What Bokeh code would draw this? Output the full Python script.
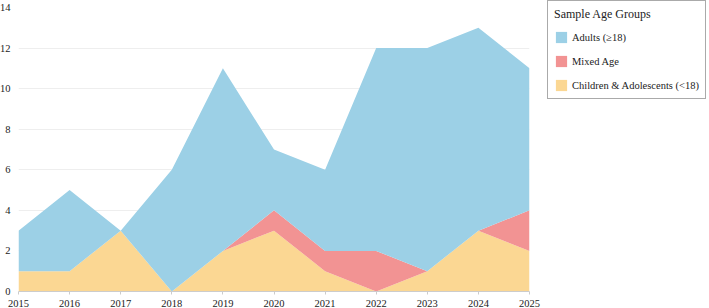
from bokeh.plotting import figure
from bokeh.models import ColumnDataSource, Legend, LegendItem, FixedTicker, Range1d
from bokeh.embed import file_html
from bokeh.resources import INLINE

years = [2015, 2016, 2017, 2018, 2019, 2020, 2021, 2022, 2023, 2024, 2025]
children = [1, 1, 3, 0, 2, 3, 1, 0, 1, 3, 2]
mixed = [0, 0, 0, 0, 0, 1, 1, 2, 0, 0, 2]
adults = [2, 4, 0, 6, 9, 3, 4, 10, 11, 10, 7]
y_ticks = [0, 2, 4, 6, 8, 10, 12, 14]

series_names = ["children", "mixed", "adults"]
series_labels = ["Children & Adolescents (<18)", "Mixed Age", "Adults (\u226518)"]
series_colors = ["#FBD793", "#F29393", "#9CD0E6"]

source = ColumnDataSource(dict(year=years, children=children, mixed=mixed, adults=adults))

FONT = "Liberation Serif"

p = figure(
    frame_width=511, frame_height=284,
    output_backend="svg", toolbar_location=None,
    x_range=Range1d(2015, 2025), y_range=Range1d(0, 14),
    min_border_left=0, min_border_right=179, min_border_top=7, min_border_bottom=0,
)
# pull the canvas left so the plot area starts close to the page edge
p.styles = {"margin-left": "-4px"}
p.outline_line_color = None
p.background_fill_color = "white"

areas = p.varea_stack(stackers=series_names, x="year", color=series_colors, source=source)

p.xaxis.ticker = FixedTicker(ticks=years)
p.yaxis.ticker = FixedTicker(ticks=y_ticks)

p.xgrid.grid_line_color = None
p.ygrid.grid_line_color = "#eeeeee"
p.ygrid.grid_line_width = 1

for ax in (p.xaxis, p.yaxis):
    ax.major_label_text_font = FONT
    ax.major_label_text_color = "#222222"
    ax.major_label_text_font_size = "10.5px"
    ax.minor_tick_line_color = None

p.xaxis.axis_line_color = "#cccccc"
p.xaxis.major_tick_line_color = "#cccccc"
p.xaxis.major_tick_out = 3
p.xaxis.major_tick_in = 0
p.xaxis.major_label_standoff = 5

p.yaxis.axis_line_color = None
p.yaxis.major_tick_line_color = None
p.yaxis.major_tick_out = 0
p.yaxis.major_tick_in = 0
p.yaxis.major_label_standoff = 8

items = [LegendItem(label=series_labels[i], renderers=[areas[i]]) for i in (2, 1, 0)]
legend = Legend(
    items=items,
    title="Sample Age Groups",
    title_text_font=FONT, title_text_font_size="12px", title_text_color="#222222",
    title_text_font_style="normal", title_text_align="center", title_standoff=8,
    label_text_font=FONT, label_text_font_size="10.5px", label_text_color="#222222",
    glyph_width=14, glyph_height=14, label_standoff=4,
    spacing=10, padding=6, margin=0,
    border_line_color="#555555", border_line_width=1,
    background_fill_color="white",
    location=(18, 192),
)
p.add_layout(legend, "right")

open("out.html", "w").write(file_html(p, INLINE))
